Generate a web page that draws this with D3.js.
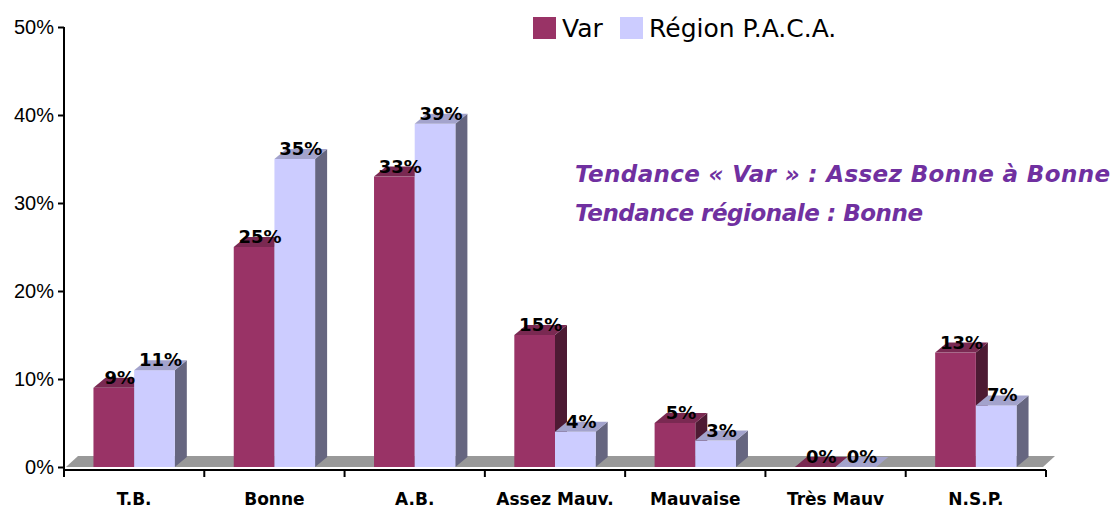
<!DOCTYPE html>
<html lang="fr">
<head>
<meta charset="utf-8">
<title>Tendance Var / Région P.A.C.A.</title>
<script src="https://cdn.jsdelivr.net/npm/d3@7"></script>
<style>
  body { margin: 0; background: #fff; }
  svg { display: block; font-family: "Comic Sans MS", "DejaVu Sans", sans-serif; }
  .axis path, .axis line { stroke: #000; stroke-width: 2; }
  .yaxis text { font-size: 20px; fill: #000; }
  .cat { font-size: 17px; font-weight: bold; fill: #000; }
</style>
</head>
<body>
<svg width="1114" height="509"></svg>
<script>
const categories = ["T.B.", "Bonne", "A.B.", "Assez Mauv.", "Mauvaise", "Très Mauv", "N.S.P."];
const varValues = [9, 25, 33, 15, 5, 0, 13];
const pacaValues = [11, 35, 39, 4, 3, 0, 7];
const seriesNames = ["Var", "Région P.A.C.A."];
const yTicks = [0, 10, 20, 30, 40, 50];
const notes = ["Tendance « Var » : Assez Bonne à Bonne", "Tendance régionale : Bonne"];

const colors = [
  { front: "#993366", top: "#7a2952", side: "#4d1a33" },
  { front: "#ccccff", top: "#a3a3cc", side: "#666680" }
];

const svg = d3.select("svg");
const dx = 12, dy = -10; // fake 3D depth

const x = d3.scaleBand().domain(categories).range([64, 1046]);
const y = d3.scaleLinear().domain([0, 50]).range([467, 27]);
const barW = x.bandwidth() * 0.29;

// floor
const fx0 = 66, fx1 = 1043, fy = y(0);
svg.append("path")
  .attr("d", `M${fx0},${fy} L${fx1},${fy} L${fx1 + dx},${fy + dy - 1} L${fx0 + dx},${fy + dy - 1} Z`)
  .attr("fill", "#999999");

// y axis
svg.append("g")
  .attr("class", "axis yaxis")
  .attr("transform", "translate(64,0)")
  .call(d3.axisLeft(y).tickValues(yTicks).tickSize(6).tickSizeOuter(0).tickFormat(d => d + "%"))
  .call(g => g.select(".domain").attr("d", `M0,${y(50)}V470`))
  .call(g => g.selectAll("text").attr("x", -10));

// x axis: line + ticks at category boundaries
const xa = svg.append("g").attr("class", "axis");
xa.append("line").attr("x1", 64).attr("x2", 1046).attr("y1", 470).attr("y2", 470);
const bounds = categories.map(c => x(c)).concat([x.range()[1]]);
xa.selectAll(".tk").data(bounds).join("line")
  .attr("x1", d => d).attr("x2", d => d).attr("y1", 470).attr("y2", 477);
xa.selectAll(".cat").data(categories).join("text")
  .attr("class", "cat")
  .attr("x", d => x(d) + x.bandwidth() / 2)
  .attr("y", 505)
  .attr("text-anchor", "middle")
  .text(d => d);

// bars
const series = [varValues, pacaValues];
const bars = [];
categories.forEach((c, i) => {
  series.forEach((vals, s) => {
    const cx = x(c) + x.bandwidth() / 2;
    bars.push({ c, s, v: vals[i], x0: cx - barW + s * barW });
  });
});

const g = svg.append("g");
bars.forEach(b => {
  const x0 = b.x0, x1 = b.x0 + barW, yt = y(b.v), yb = y(0);
  const col = colors[b.s];
  const bg = g.append("g");
  if (b.v > 0) {
    bg.append("path")
      .attr("d", `M${x1},${yb} L${x1 + dx},${yb + dy} L${x1 + dx},${yt + dy} L${x1},${yt} Z`)
      .attr("fill", col.side);
    bg.append("rect")
      .attr("x", x0).attr("y", yt).attr("width", barW).attr("height", yb - yt)
      .attr("fill", col.front);
  }
  bg.append("path")
    .attr("d", `M${x0},${yt} L${x1},${yt} L${x1 + dx},${yt + dy} L${x0 + dx},${yt + dy} Z`)
    .attr("fill", col.top);
});

// value labels
g.selectAll(".lbl").data(bars).join("text")
  .attr("x", d => d.x0 + barW / 2 + 6)
  .attr("y", d => y(d.v) - 4)
  .attr("text-anchor", "middle")
  .attr("font-weight", "bold")
  .attr("font-size", "18px")
  .text(d => d.v + "%");

// legend
const leg = svg.append("g");
const legX = [533, 620];
seriesNames.forEach((n, i) => {
  leg.append("rect").attr("x", legX[i]).attr("y", 17).attr("width", 23).attr("height", 22)
    .attr("fill", colors[i].front);
  leg.append("text").attr("x", legX[i] + 29).attr("y", 37)
    .attr("font-size", "25px").text(n);
});

// annotation
const noteW = [535, 348];
svg.selectAll(".note").data(notes).join("text")
  .attr("x", 575)
  .attr("y", (d, i) => 182 + i * 39)
  .attr("fill", "#7030a0")
  .attr("font-size", "23px")
  .attr("font-weight", "bold")
  .attr("font-style", "italic")
  .attr("textLength", (d, i) => noteW[i])
  .attr("lengthAdjust", "spacing")
  .text(d => d);
</script>
</body>
</html>
